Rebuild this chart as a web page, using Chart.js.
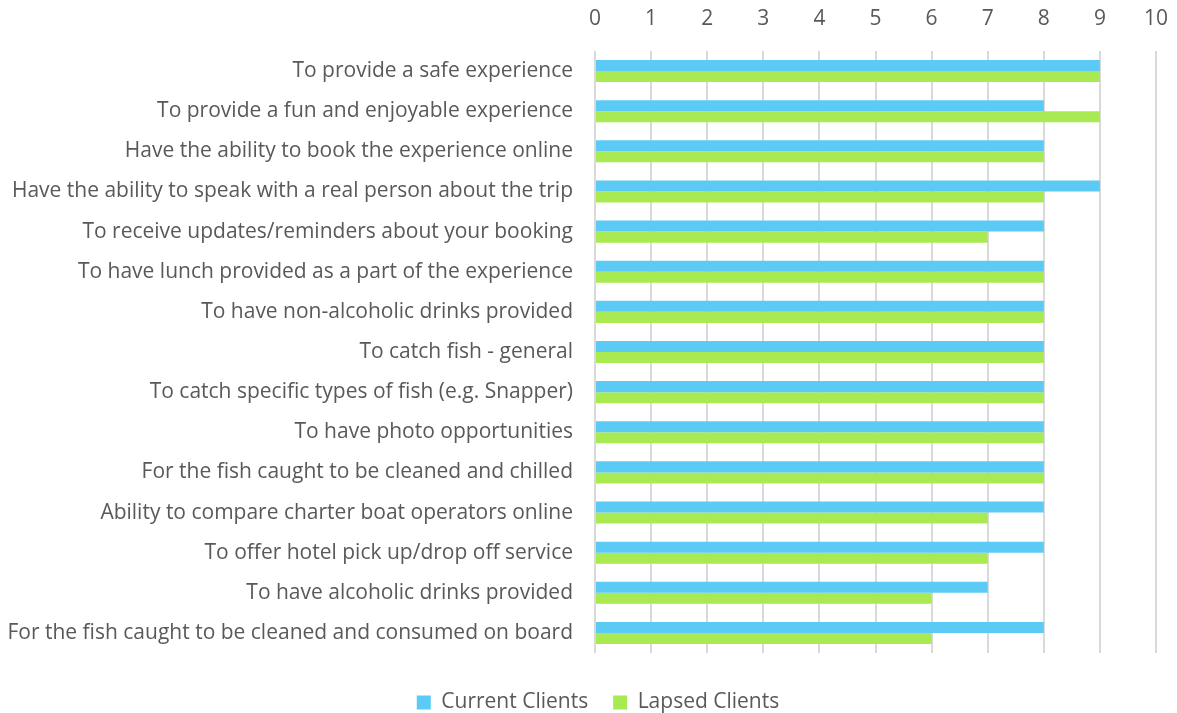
<!DOCTYPE html>
<html>
<head>
<meta charset="utf-8">
<script src="https://cdn.jsdelivr.net/npm/chart.js@4/dist/chart.umd.min.js"></script>
<style>
    html, body { margin: 0; padding: 0; background: #fff; overflow: hidden; }
    #wrap { width: 1177px; height: 713px; }
</style>
</head>
<body>
<div id="wrap"><canvas id="chart"></canvas></div>
<script>
const categories = [
    "To provide a safe experience",
    "To provide a fun and enjoyable experience",
    "Have the ability to book the experience online",
    "Have the ability to speak with a real person about the trip",
    "To receive updates/reminders about your booking",
    "To have lunch provided as a part of the experience",
    "To have non-alcoholic drinks provided",
    "To catch fish - general",
    "To catch specific types of fish (e.g. Snapper)",
    "To have photo opportunities",
    "For the fish caught to be cleaned and chilled",
    "Ability to compare charter boat operators online",
    "To offer hotel pick up/drop off service",
    "To have alcoholic drinks provided",
    "For the fish caught to be cleaned and consumed on board",
];
const currentClients = [9, 8, 8, 9, 8, 8, 8, 8, 8, 8, 8, 8, 8, 7, 8];
const lapsedClients = [9, 9, 8, 8, 7, 8, 8, 8, 8, 8, 8, 7, 7, 6, 6];
const xTicks = [0, 1, 2, 3, 4, 5, 6, 7, 8, 9, 10];

const textColor = "#595959";
const font = { family: "'Open Sans', sans-serif", size: 21 };

// nudge the legend a bit lower and to the right of its default slot
const legendOffset = {
    id: "legendOffset",
    afterLayout(chart) {
        const lg = chart.legend;
        lg.top += 14;
        lg.bottom += 14;
        lg.left += 20;
        lg.right += 20;
    },
};

const ctx = document.getElementById("chart").getContext("2d");
new Chart(ctx, {
    type: "bar",
    data: {
        labels: categories,
        datasets: [
            {
                label: "Current Clients",
                data: currentClients,
                backgroundColor: "#5bcbf5",
                barPercentage: 1.0,
                categoryPercentage: 0.55,
            },
            {
                label: "Lapsed Clients",
                data: lapsedClients,
                backgroundColor: "#a9ea52",
                barPercentage: 1.0,
                categoryPercentage: 0.55,
            },
        ],
    },
    options: {
        indexAxis: "y",
        responsive: true,
        maintainAspectRatio: false,
        animation: false,
        layout: {
            padding: { top: 8, right: 21, bottom: 4, left: 0 },
        },
        scales: {
            x: {
                position: "top",
                min: 0,
                max: 10,
                afterBuildTicks: (scale) => {
                    scale.ticks = xTicks.map((v) => ({ value: v }));
                },
                afterFit: (scale) => {
                    scale.height = 43;
                    scale.paddingRight = 10;
                },
                ticks: { color: textColor, font: font, padding: 19 },
                grid: { color: "#d9d9d9", lineWidth: 2, drawTicks: false },
                border: { display: false },
            },
            y: {
                afterFit: (scale) => {
                    scale.width = 595;
                },
                ticks: { color: textColor, font: font, padding: 22, autoSkip: false },
                grid: { display: false, drawTicks: false },
                border: { display: false },
            },
        },
        plugins: {
            legend: {
                position: "bottom",
                labels: {
                    color: textColor,
                    font: font,
                    boxWidth: 14,
                    boxHeight: 14,
                    padding: 25,
                },
            },
            tooltip: { enabled: false },
        },
    },
    plugins: [legendOffset],
});
</script>
</body>
</html>
